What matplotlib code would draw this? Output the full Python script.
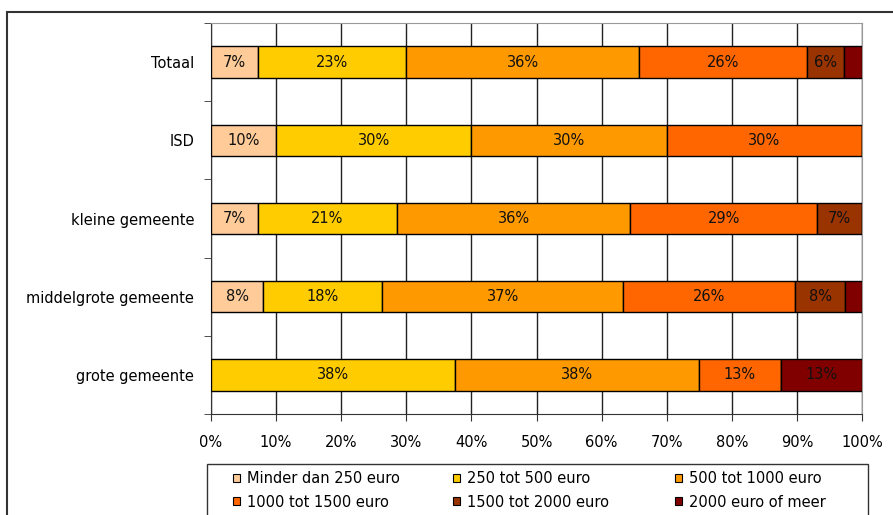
import matplotlib
matplotlib.use("Agg")
import matplotlib.pyplot as plt
from matplotlib.patches import Patch, Rectangle
import numpy as np
import math

categories = ["Totaal", "ISD", "kleine gemeente", "middelgrote gemeente", "grote gemeente"]
series_names = ["Minder dan 250 euro", "250 tot 500 euro", "500 tot 1000 euro",
                "1000 tot 1500 euro", "1500 tot 2000 euro", "2000 euro of meer"]
minder_250 = [7.2, 10.0, 7.2, 8.0, 0.0]
t250_500 = [22.8, 30.0, 21.4, 18.3, 37.5]
t500_1000 = [35.7, 30.0, 35.8, 37.0, 37.5]
t1000_1500 = [25.8, 30.0, 28.7, 26.4, 12.5]
t1500_2000 = [5.7, 0.0, 6.9, 7.7, 0.0]
meer_2000 = [2.8, 0.0, 0.0, 2.6, 12.5]
series = [minder_250, t250_500, t500_1000, t1000_1500, t1500_2000, meer_2000]
colors = ["#FFCC99", "#FFCC00", "#FF9900", "#FF6600", "#993300", "#800000"]
xtick_labels = ["0%", "10%", "20%", "30%", "40%", "50%", "60%", "70%", "80%", "90%", "100%"]

plt.rcParams['font.family'] = ['DejaVu Sans']
W, H = 893, 515
fig = plt.figure(figsize=(W/100, H/100), dpi=100)

# outer chart frame
fig.patches.append(Rectangle((7/W, -0.1), 1.2, 1 - 12/H + 0.1, transform=fig.transFigure,
                             fill=False, edgecolor="#333333", linewidth=1.5, zorder=0))

ax = fig.add_axes([211/W, 1 - 414/H, (862-211)/W, (414-23)/H])
n = len(categories)
ypos = np.arange(n)[::-1]
ax.set_xlim(0, 100)
ax.set_ylim(-0.5, n - 0.5)

FS = 10.5
left = np.zeros(n)
for vals, col in zip(series, colors):
    vals = np.array(vals)
    ax.barh(ypos, vals, left=left, height=0.4, color=col, edgecolor="black",
            linewidth=1.0, zorder=3)
    for y, l, v in zip(ypos, left, vals):
        if v >= 5:
            ax.text(l + v/2, y, f"{math.floor(v + 0.5)}%", ha="center", va="center",
                    fontsize=FS, color="#111111", zorder=4)
    left += vals

ax.set_xticks(np.arange(0, 101, 10))
ax.set_xticklabels(xtick_labels, fontsize=FS)
ax.set_yticks(ypos)
ax.set_yticklabels(categories, fontsize=FS)
ax.tick_params(axis="y", which="major", length=0, pad=12)
ax.set_yticks(np.arange(-0.5, n, 1.0), minor=True)
ax.tick_params(axis="y", which="minor", length=5, direction="out", color="#333333")
ax.tick_params(axis="x", length=5, direction="out", color="#333333", pad=10)
ax.grid(axis="x", color="#222222", linewidth=1.0, zorder=1)
ax.set_axisbelow(True)
for s in ["top", "right"]:
    ax.spines[s].set_color("#999999")
for s in ["bottom", "left"]:
    ax.spines[s].set_color("#333333")

# legend frame
fig.patches.append(Rectangle((207/W, -0.1), (868-207)/W, 1 - 464/H + 0.1,
                             transform=fig.transFigure, fill=False,
                             edgecolor="#333333", linewidth=1.0, zorder=0))

handles = [Patch(facecolor=c, edgecolor="black", linewidth=0.8) for c in colors]
col_x = [233, 453, 675]
for ci in range(3):
    idx = [ci, ci + 3]
    fig.legend([handles[i] for i in idx], [series_names[i] for i in idx],
               loc="center left", bbox_to_anchor=(col_x[ci]/W, 1 - 490.5/H),
               fontsize=FS, frameon=False, handlelength=0.5, handleheight=0.5,
               handletextpad=0.45, borderpad=0, labelspacing=0.55,
               borderaxespad=0)

fig.savefig("out.png", dpi=100)
